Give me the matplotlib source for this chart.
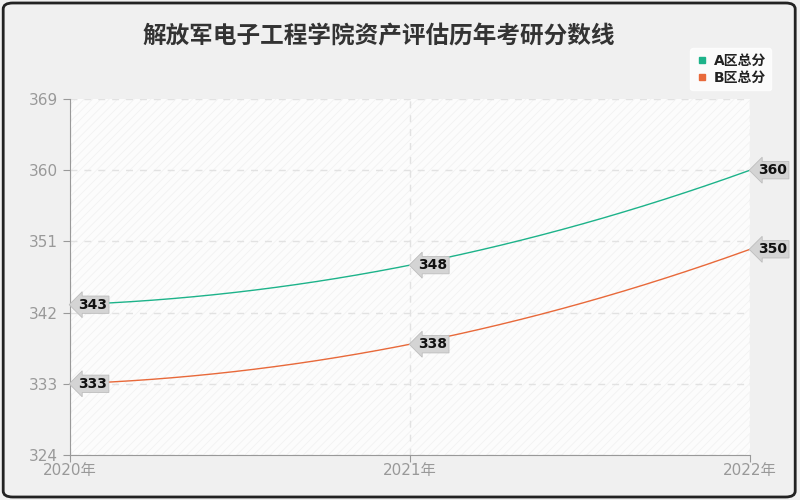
import numpy as np
import matplotlib.pyplot as plt
from matplotlib.patches import FancyBboxPatch, Rectangle

plt.rcParams['font.family'] = ['DejaVu Sans', 'Noto Sans CJK SC']
plt.rcParams['hatch.linewidth'] = 0.6

# 数据
years = [2020, 2021, 2022]
year_labels = ['2020年', '2021年', '2022年']
score_a = [343, 348, 360]
score_b = [333, 338, 350]
series_names = ['A区总分', 'B区总分']
colors = ['#1db38a', '#e8693a']
y_ticks = [324, 333, 342, 351, 360, 369]

fig = plt.figure(figsize=(8, 5), dpi=100)
fig.patch.set_facecolor('#f0f0f0')

# 外框(圆角)
frame = FancyBboxPatch((0.004, 0.006), 0.99, 0.988, boxstyle='round,pad=0,rounding_size=0.012',
                       transform=fig.transFigure, facecolor='none', edgecolor='#222222',
                       linewidth=2, zorder=-1)
fig.patches.append(frame)

ax = fig.add_axes([70 / 800, 45 / 500, 680 / 800, 356 / 500])
ax.set_facecolor('#fcfcfc')
bg = Rectangle((0, 0), 1, 1, transform=ax.transAxes, facecolor='none',
               edgecolor='#f2f2f2', hatch='////', linewidth=0, zorder=0)
ax.add_patch(bg)

x = np.arange(len(years))
xs = np.linspace(0, len(years) - 1, 200)
for vals, c in zip([score_a, score_b], colors):
    coef = np.polyfit(x, vals, 2)
    ax.plot(xs, np.polyval(coef, xs), color=c, linewidth=1, zorder=3)
    for xi, v in zip(x, vals):
        ax.annotate(str(v), (xi, v), xytext=(6, 0), textcoords='offset points',
                    ha='left', va='center', fontsize=10, fontweight='bold', color='#111111',
                    bbox=dict(boxstyle='larrow,pad=0.12', facecolor='#d4d4d4',
                              edgecolor='#bdbdbd', linewidth=0.6),
                    zorder=5, annotation_clip=False)

ax.set_xlim(0, len(years) - 1)
ax.set_ylim(y_ticks[0], y_ticks[-1])
ax.set_xticks(x)
ax.set_xticklabels(year_labels)
ax.set_yticks(y_ticks)
ax.tick_params(axis='both', colors='#999999', labelcolor='#999999', labelsize=11, length=5)
ax.tick_params(axis='x', pad=1)

for s in ['top', 'right']:
    ax.spines[s].set_visible(False)
for s in ['left', 'bottom']:
    ax.spines[s].set_color('#999999')

ax.grid(True, color='#e2e2e2', linestyle=(0, (5, 5)), linewidth=1)
ax.set_axisbelow(True)

fig.text(0.473, 0.927, '解放军电子工程学院资产评估历年考研分数线', ha='center', va='center',
         fontsize=17, fontweight='bold', color='#333333', family='Noto Sans CJK SC')

handles = [plt.Line2D([], [], marker='s', linestyle='none', color=c, markersize=5) for c in colors]
leg = fig.legend(handles, series_names, loc='upper right', bbox_to_anchor=(0.973, 0.917),
                 frameon=True, fontsize=10, handletextpad=0.3, borderpad=0.4,
                 labelspacing=0.2, handlelength=1.0)
leg.get_frame().set_facecolor('white')
leg.get_frame().set_edgecolor('white')
for t in leg.get_texts():
    t.set_fontweight('bold')
    t.set_color('#222222')

fig.savefig('out.png', dpi=100, facecolor=fig.get_facecolor())
